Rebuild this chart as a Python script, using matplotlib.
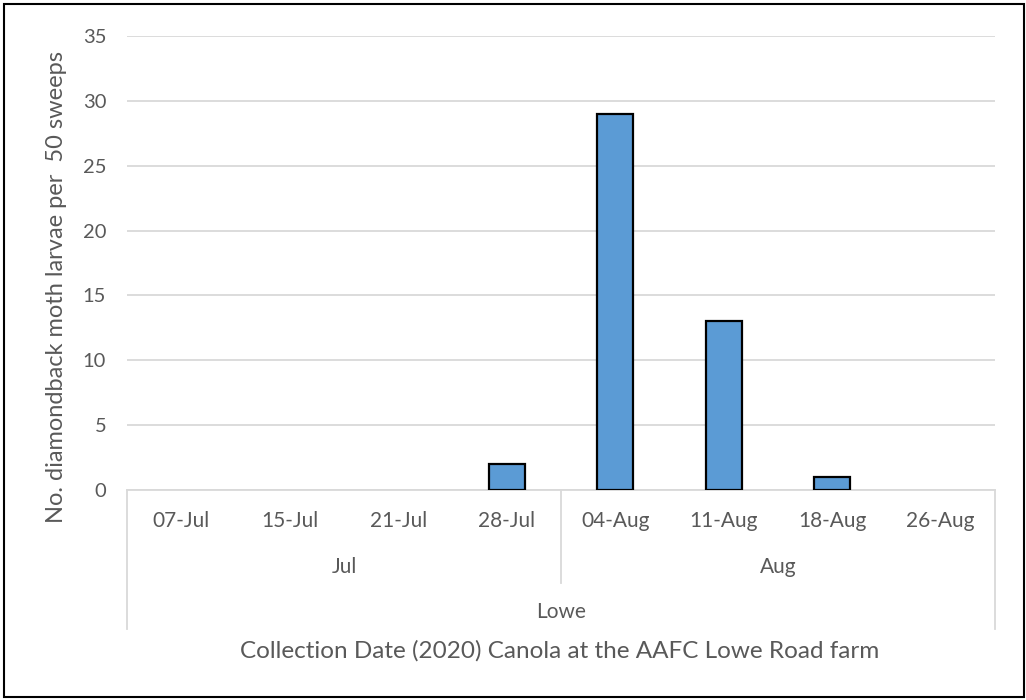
import matplotlib
matplotlib.use("Agg")
import matplotlib.pyplot as plt
from matplotlib.transforms import blended_transform_factory
from matplotlib.lines import Line2D
from matplotlib.patches import Rectangle

# Sweep-net counts of diamondback moth larvae, 2020 canola
dates = ["07-Jul", "15-Jul", "21-Jul", "28-Jul", "04-Aug", "11-Aug", "18-Aug", "26-Aug"]
months = ["Jul", "Aug"]
month_sizes = [4, 4]
site = "Lowe"
larvae = [0, 0, 0, 2, 29, 13, 1, 0]
yticks = [0, 5, 10, 15, 20, 25, 30, 35]

W, H = 1026, 700
plt.rcParams["font.family"] = ["Lato", "DejaVu Sans"]
text_color = "#595959"
grid_color = "#d9d9d9"

fig = plt.figure(figsize=(W / 100, H / 100), dpi=100)
ax = fig.add_axes([127 / W, 1 - 490 / H, (995 - 127) / W, (490 - 36) / H])

x = list(range(len(dates)))
# empty categories get no outline
edge_widths = [1.6 if v > 0 else 0 for v in larvae]
ax.bar(x, larvae, width=0.33, color="#5b9bd5", edgecolor="black",
       linewidth=edge_widths, zorder=3)

ax.set_xlim(-0.5, len(dates) - 0.5)
ax.set_ylim(0, 35)
ax.set_yticks(yticks)
ax.tick_params(axis="y", length=0, pad=15, labelsize=14.5, labelcolor=text_color)
ax.set_xticks([])
ax.yaxis.grid(True, color=grid_color, linewidth=1.3, zorder=0)
for s in ["top", "right", "left"]:
    ax.spines[s].set_visible(False)
ax.spines["bottom"].set_color(grid_color)
ax.spines["bottom"].set_linewidth(1.3)


def fy(py):
    return 1 - py / H


fig.text(57 / W, fy(287), "No. diamondback moth larvae per  50 sweeps", rotation=90,
         ha="center", va="center", fontsize=17, color=text_color)

# Multi-level category axis
tr = blended_transform_factory(ax.transData, fig.transFigure)

for xi, d in zip(x, dates):
    ax.text(xi, fy(521), d, transform=tr, ha="center", va="center",
            fontsize=15, color=text_color)

start = 0
bounds = [-0.5]
for m, n in zip(months, month_sizes):
    center = start + (n - 1) / 2
    ax.text(center, fy(567), m, transform=tr, ha="center", va="center",
            fontsize=15, color=text_color)
    start += n
    bounds.append(start - 0.5)

for b in bounds:
    outer = b in (bounds[0], bounds[-1])
    ax.add_line(Line2D([b, b], [fy(490), fy(629 if outer else 583)], transform=tr,
                       color=grid_color, linewidth=1.3, clip_on=False))

ax.text((bounds[0] + bounds[-1]) / 2, fy(612), site, transform=tr, ha="center",
        va="center", fontsize=15, color=text_color)

fig.text(560 / W, fy(651), "Collection Date (2020) Canola at the AAFC Lowe Road farm",
         ha="center", va="center", fontsize=17.5, color=text_color)

# Outer frame
fig.patches.append(Rectangle((4 / W, 3 / H), 1020 / W, 693 / H, transform=fig.transFigure,
                             fill=False, edgecolor="black", linewidth=1.5))

fig.savefig("out.png", dpi=100)
